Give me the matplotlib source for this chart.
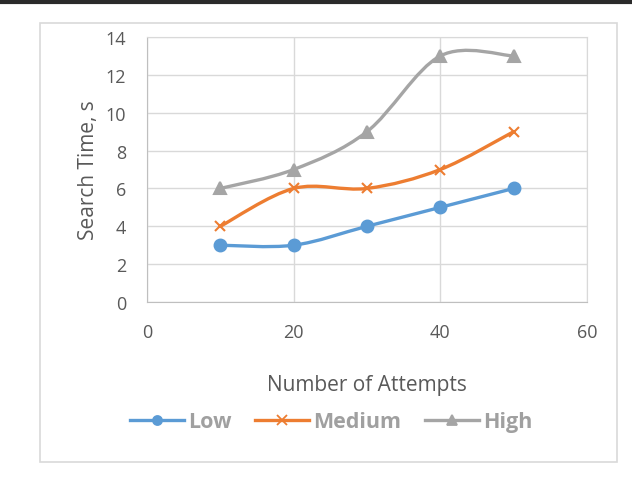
import matplotlib
matplotlib.use("Agg")
import matplotlib.pyplot as plt
import numpy as np
from matplotlib.path import Path
from matplotlib.patches import PathPatch, Rectangle
from matplotlib.lines import Line2D

# data
attempts = [10, 20, 30, 40, 50]
low = [3, 3, 4, 5, 6]
medium = [4, 6, 6, 7, 9]
high = [6, 7, 9, 13, 13]

plt.rcParams['font.family'] = ['Open Sans', 'DejaVu Sans']


def smooth_path(xs, ys):
    # excel style smoothed line: catmull-rom as cubic bezier
    pts = np.column_stack([xs, ys]).astype(float)
    n = len(pts)
    verts = [pts[0]]
    codes = [Path.MOVETO]
    for i in range(n - 1):
        p0 = pts[max(i - 1, 0)]
        p1 = pts[i]
        p2 = pts[i + 1]
        p3 = pts[min(i + 2, n - 1)]
        c1 = p1 + (p2 - p0) / 6
        c2 = p2 - (p3 - p1) / 6
        verts += [c1, c2, p2]
        codes += [Path.CURVE4] * 3
    return Path(verts, codes)


fig = plt.figure(figsize=(6.32, 4.81), dpi=100)
W, H = 632, 481

# top dark rule and chart frame
fig.add_artist(Line2D([0, 1], [1 - 3 / H, 1 - 3 / H], color='#2a2a2a', lw=3))
fig.add_artist(Rectangle((40 / W, 1 - 463 / H), 577 / W, 439 / H, transform=fig.transFigure,
                         fill=False, edgecolor='#d9d9d9', lw=1.2))

ax = fig.add_axes([147 / W, 1 - 303 / H, 440 / W, 265 / H])

series = [
    (low, '#5b9bd5', 'o', 8.5, 'Low'),
    (medium, '#ed7d31', 'x', 7.5, 'Medium'),
    (high, '#a5a5a5', '^', 8.5, 'High'),
]
handles = []
for ys, col, mk, ms, lab in series:
    ax.add_patch(PathPatch(smooth_path(attempts, ys), fill=False, edgecolor=col,
                           lw=2.4, capstyle='round', joinstyle='round', zorder=3))
    ax.plot(attempts, ys, linestyle='none', marker=mk, markersize=ms, color=col,
            markeredgewidth=1.5, zorder=4)
    handles.append(Line2D([], [], color=col, lw=2.4, marker=mk, markersize=6.5,
                          markeredgewidth=1.3, label=lab))

ax.set_xlim(0, 60)
ax.set_ylim(0, 14)
ax.set_xticks([0, 20, 40, 60])
ax.set_yticks(range(0, 15, 2))
ax.grid(True, color='#d9d9d9', lw=1)
ax.set_axisbelow(True)
for s in ax.spines.values():
    s.set_color('#d9d9d9')
ax.spines['left'].set_color('#bfbfbf')
ax.spines['bottom'].set_color('#bfbfbf')
ax.tick_params(length=0, labelsize=13, labelcolor='#595959', pad=15)

ax.set_ylabel('Search Time, s', fontsize=15, color='#595959', va='center')
ax.yaxis.set_label_coords(-0.134, 0.5)
ax.set_xlabel('Number of Attempts', fontsize=15, color='#595959', va='center')
ax.xaxis.set_label_coords(0.5, -0.313)

leg = fig.legend(handles=handles, loc='center', bbox_to_anchor=(331 / W, 1 - 423 / H),
                 ncol=3, frameon=False, fontsize=15.5, handlelength=2.5,
                 columnspacing=1.1, handletextpad=0.2)
for t in leg.get_texts():
    t.set_color('#a0a0a0')
    t.set_fontweight('bold')

fig.savefig('out.png', dpi=100)
